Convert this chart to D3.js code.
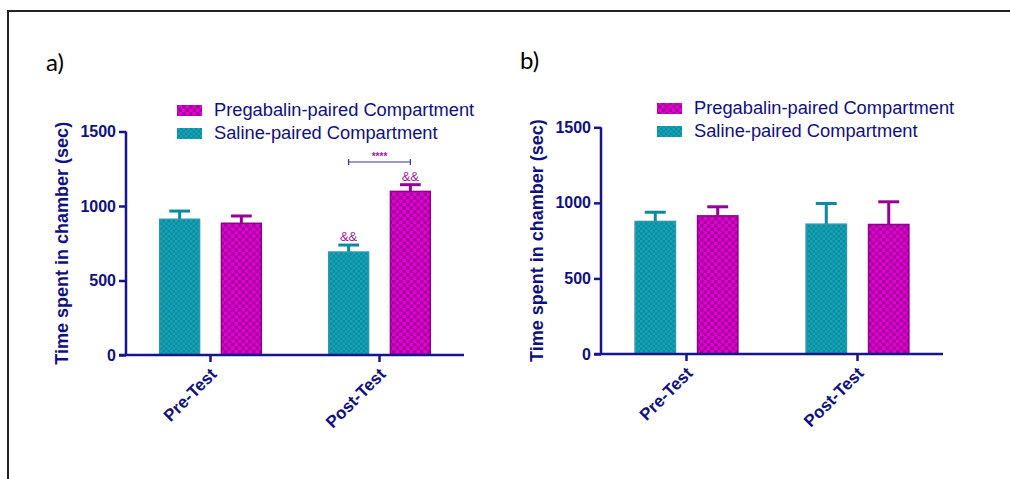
<!DOCTYPE html>
<html>
<head>
<meta charset="utf-8">
<script src="https://cdn.jsdelivr.net/npm/d3@7"></script>
<style>
  body { margin: 0; background: #fff; }
  svg { display: block; }
</style>
</head>
<body>
<div id="chart"></div>
<script>
// data
var groups = ["Pre-Test", "Post-Test"]
var seriesNames = ["Saline-paired Compartment", "Pregabalin-paired Compartment"]
var legendOrder = ["Pregabalin-paired Compartment", "Saline-paired Compartment"]
var yTicks = [0, 500, 1000, 1500]

var salineA = [911, 691]
var salineSemA = [55, 47]
var pregA = [884, 1098]
var pregSemA = [49, 45]

var salineB = [877, 859]
var salineSemB = [61, 137]
var pregB = [914, 857]
var pregSemB = [60, 150]

// "&&" marks on panel a, and the bracket between post-test bars
var ampMarksA = [[false, false], [true, true]] // [group][series]: saline, preg
var bracketA = {group: "Post-Test", label: "****"}

var navy = "#16168c"
var textNavy = "#10107f"
var purpleTxt = "#a21aa0"

var W = 1010, H = 479
var svg = d3.select("#chart").append("svg").attr("width", W).attr("height", H)

// fill patterns
var defs = svg.append("defs")
var pSal = defs.append("pattern").attr("id", "patSaline").attr("patternUnits", "userSpaceOnUse")
    .attr("width", 5).attr("height", 5)
pSal.append("rect").attr("width", 5).attr("height", 5).attr("fill", "#078ea2")
pSal.append("rect").attr("width", 2.5).attr("height", 2.5).attr("fill", "#1aa2b4")
pSal.append("rect").attr("x", 2.5).attr("y", 2.5).attr("width", 2.5).attr("height", 2.5).attr("fill", "#1aa2b4")

var pPreg = defs.append("pattern").attr("id", "patPreg").attr("patternUnits", "userSpaceOnUse")
    .attr("width", 7).attr("height", 7)
pPreg.append("rect").attr("width", 7).attr("height", 7).attr("fill", "#e400d4")
pPreg.append("rect").attr("width", 3.5).attr("height", 3.5).attr("fill", "#a3009c")
pPreg.append("rect").attr("x", 3.5).attr("y", 3.5).attr("width", 3.5).attr("height", 3.5).attr("fill", "#a3009c")

var fills = {"Saline-paired Compartment": "url(#patSaline)", "Pregabalin-paired Compartment": "url(#patPreg)"}
var strokes = {"Saline-paired Compartment": "#2c98aa", "Pregabalin-paired Compartment": "#8e0089"}
var errColors = {"Saline-paired Compartment": "#0a8a9e", "Pregabalin-paired Compartment": "#980093"}

// outer frame (only top and left visible)
svg.append("path").attr("d", "M8," + H + "V11H" + W)
    .attr("fill", "none").attr("stroke", "#222").attr("stroke-width", 2)

function drawPanel(cfg){
    var g = svg.append("g")

    var x0 = d3.scaleBand().domain(groups).range([cfg.left, cfg.right])
    var step = x0.step()
    var x1 = d3.scaleBand().domain(seriesNames)
        .range([step * 0.195, step * 0.805]).paddingInner(0.33)
    var y = d3.scaleLinear().domain([0, 1500]).range([cfg.bottom, cfg.top])

    var rows = []
    groups.forEach(function(gr, i){
        rows.push({group: gr, gi: i, s: seriesNames[0], v: cfg.saline[i], e: cfg.salineSem[i], si: 0})
        rows.push({group: gr, gi: i, s: seriesNames[1], v: cfg.preg[i], e: cfg.pregSem[i], si: 1})
    })

    // error bars (upper only), drawn under bars
    var bw = x1.bandwidth()
    rows.forEach(function(d){
        var cx = x0(d.group) + x1(d.s) + bw / 2
        g.append("line")
            .attr("x1", cx).attr("x2", cx)
            .attr("y1", y(d.v)).attr("y2", y(d.v + d.e))
            .attr("stroke", errColors[d.s]).attr("stroke-width", 3)
        g.append("line")
            .attr("x1", cx - bw / 4).attr("x2", cx + bw / 4)
            .attr("y1", y(d.v + d.e)).attr("y2", y(d.v + d.e))
            .attr("stroke", errColors[d.s]).attr("stroke-width", 3)
    })

    g.selectAll("rect.bar").data(rows).enter().append("rect")
        .attr("class", "bar")
        .attr("x", function(d){ return x0(d.group) + x1(d.s) + 0.75 })
        .attr("y", function(d){ return y(d.v) })
        .attr("width", bw - 1.5)
        .attr("height", function(d){ return y(0) - y(d.v) })
        .attr("fill", function(d){ return fills[d.s] })
        .attr("stroke", function(d){ return strokes[d.s] })
        .attr("stroke-width", 1.5)

    // y axis
    var yAxis = d3.axisLeft(y).tickValues(yTicks).tickSize(7).tickPadding(3).tickFormat(d3.format("d"))
    var ya = g.append("g").attr("transform", "translate(" + cfg.left + ",0)").call(yAxis)
    ya.select(".domain").attr("stroke", navy).attr("stroke-width", 2.5)
        .attr("d", "M0," + cfg.bottom + "V" + cfg.top)
    ya.selectAll(".tick line").attr("stroke", navy).attr("stroke-width", 2.5)
    ya.selectAll(".tick text").attr("fill", textNavy)
        .style("font", "bold 16px 'Liberation Sans', Arial, sans-serif")

    // x axis
    var xAxis = d3.axisBottom(x0).tickSize(7).tickSizeOuter(0)
    var xa = g.append("g").attr("transform", "translate(0," + cfg.bottom + ")").call(xAxis)
    xa.select(".domain").attr("stroke", navy).attr("stroke-width", 2.5)
        .attr("d", "M" + (cfg.left - 7) + ",0H" + cfg.right)
    xa.selectAll(".tick line").attr("stroke", navy).attr("stroke-width", 2.5)
    xa.selectAll(".tick text")
        .attr("fill", textNavy)
        .style("font", "bold 17px 'Liberation Sans', Arial, sans-serif")
        .attr("text-anchor", "end")
        .attr("dy", "0.35em")
        .attr("transform", "translate(3,16) rotate(-45)")
        .attr("y", 0).attr("x", 0)

    // y title
    g.append("text")
        .attr("transform", "translate(" + cfg.titleX + "," + (cfg.bottom + cfg.top) / 2 + ") rotate(-90)")
        .attr("text-anchor", "middle")
        .attr("fill", textNavy)
        .style("font", "bold 18px 'Liberation Sans', Arial, sans-serif")
        .text("Time spent in chamber (sec)")

    // legend
    legendOrder.forEach(function(name, i){
        var by = cfg.legY + i * 23
        g.append("rect")
            .attr("x", cfg.legX).attr("y", by - 11)
            .attr("width", 25).attr("height", 11)
            .attr("fill", fills[name])
        g.append("text")
            .attr("x", cfg.legX + 37).attr("y", by)
            .attr("fill", textNavy)
            .style("font", "18.3px 'Liberation Sans', Arial, sans-serif")
            .text(name)
    })

    // panel letter
    g.append("text").attr("x", cfg.letterX).attr("y", cfg.letterY)
        .attr("fill", "#000")
        .style("font", "24px Lato, 'Open Sans', sans-serif")
        .text(cfg.letter)

    return {x0: x0, x1: x1, y: y, rows: rows, g: g}
}

var pa = drawPanel({
    left: 126, right: 464, top: 131.5, bottom: 355,
    saline: salineA, salineSem: salineSemA, preg: pregA, pregSem: pregSemA,
    titleX: 68, legX: 177, legY: 116, letter: "a)", letterX: 46, letterY: 71
})

var pb = drawPanel({
    left: 601, right: 943, top: 127.3, bottom: 354,
    saline: salineB, salineSem: salineSemB, preg: pregB, pregSem: pregSemB,
    titleX: 543, legX: 657, legY: 114, letter: "b)", letterX: 520, letterY: 69
})

// significance marks on panel a
pa.rows.forEach(function(d){
    if (!ampMarksA[d.gi][d.si]) return
    var bw = pa.x1.bandwidth()
    pa.g.append("text")
        .attr("x", pa.x0(d.group) + pa.x1(d.s) + bw / 2)
        .attr("y", pa.y(d.v + d.e) - 4)
        .attr("text-anchor", "middle")
        .attr("fill", purpleTxt)
        .style("font", "13px 'Liberation Sans', Arial, sans-serif")
        .text("&&")
})

var bxL = pa.x0(bracketA.group) + pa.x1(seriesNames[0]) + pa.x1.bandwidth() / 2
var bxR = pa.x0(bracketA.group) + pa.x1(seriesNames[1]) + pa.x1.bandwidth() / 2
var bY = 162
pa.g.append("path")
    .attr("d", "M" + bxL + "," + (bY - 3) + "V" + (bY + 3) + "M" + bxL + "," + bY + "H" + bxR + "M" + bxR + "," + (bY - 3) + "V" + (bY + 3))
    .attr("fill", "none").attr("stroke", "#3535b0").attr("stroke-width", 1.2)
pa.g.append("text")
    .attr("x", (bxL + bxR) / 2).attr("y", bY - 2)
    .attr("text-anchor", "middle")
    .attr("fill", purpleTxt)
    .style("font", "bold 10px 'Liberation Sans', Arial, sans-serif")
    .text(bracketA.label)
</script>
</body>
</html>
